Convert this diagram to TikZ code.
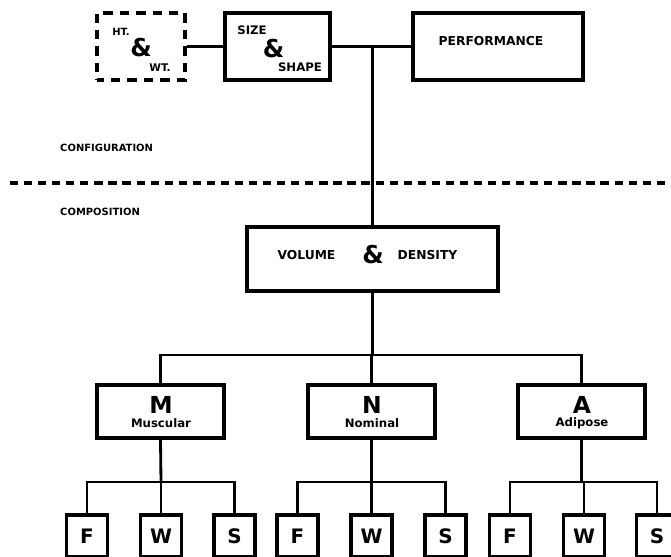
\documentclass[tikz,border=0pt]{standalone}
\usepackage{fontspec}
\setmainfont{DejaVu Sans}
\begin{document}
\begin{tikzpicture}[x=0.03cm,y=-0.03cm,
    box/.style={draw,line width=2.6pt,inner sep=0pt},
    link/.style={line width=2.4pt},
    txt/.style={inner sep=0pt,font=\bfseries\fontsize{10.5}{12}\selectfont},
    side/.style={inner sep=0pt,font=\bfseries\fontsize{8.5}{10}\selectfont},
    tiny/.style={inner sep=0pt,font=\bfseries\fontsize{10}{11}\selectfont},
    amp/.style={inner sep=0pt,font=\bfseries\fontsize{21}{22}\selectfont},
    big/.style={inner sep=0pt,font=\bfseries\fontsize{20}{22}\selectfont},
    leaf/.style={box,minimum width=1.23cm,minimum height=1.26cm,
        font=\bfseries\fontsize{17}{18}\selectfont}]

    % --- Frame ---
    \useasboundingbox (0,0) rectangle (671,556);
    \clip (0,0) rectangle (671,556);

    % --- Top row ---
    \node[box,dash pattern=on 8pt off 6pt,dash phase=2pt,minimum width=2.64cm,minimum height=2.01cm] (htwt) at (141,46.5) {};
    \node[box,minimum width=3.15cm,minimum height=2.01cm] (sizeshape) at (277.5,46.5) {};
    \node[box,minimum width=5.1cm,minimum height=2.01cm] (perf) at (498,46.5) {};

    \node[tiny,font=\bfseries\fontsize{8.5}{10}\selectfont] (htwt-ht) at (121,32) {HT.};
    \node[amp]  (htwt-amp) at (141,48) {\&};
    \node[tiny,font=\bfseries\fontsize{9}{10}\selectfont] (htwt-wt) at (160,68) {WT.};

    \node[tiny] (size-t) at (252,30) {SIZE};
    \node[amp]  (size-amp) at (273.5,49) {\&};
    \node[tiny] (shape-t) at (300,67) {SHAPE};

    \node[txt] (perf-t) at (491,41) {PERFORMANCE};

    % --- Divider and side labels ---
    \draw[line width=2.6pt,dash pattern=on 7pt off 5pt] (10,183) -- (671,183);
    \node[side,anchor=west] (config) at (60,148) {CONFIGURATION};
    \node[side,anchor=west] (compo) at (60,212) {COMPOSITION};

    % --- Volume & density ---
    \node[box,minimum width=7.53cm,minimum height=1.92cm] (vd) at (372.5,259) {};
    \node[txt] (vd-vol) at (306.5,255) {VOLUME};
    \node[amp] (vd-amp) at (373,255) {\&};
    \node[txt] (vd-den) at (427.5,255) {DENSITY};

    % --- Body types ---
    \node[box,minimum width=3.81cm,minimum height=1.59cm] (M) at (160.5,411.5) {};
    \node[box,minimum width=3.81cm,minimum height=1.59cm] (N) at (371.5,411.5) {};
    \node[box,minimum width=3.81cm,minimum height=1.59cm] (A) at (581.5,411.5) {};

    \node[big] (M-l) at (161,405) {M};
    \node[tiny] (M-n) at (161,423) {Muscular};
    \node[big] (N-l) at (372,405) {N};
    \node[tiny] (N-n) at (372,423) {Nominal};
    \node[big] (A-l) at (582,405) {A};
    \node[tiny] (A-n) at (582,423) {Adipose};

    % --- Leaves ---
    \node[leaf] (M-F) at (87,536) {F};
    \node[leaf] (M-W) at (161,536) {W};
    \node[leaf] (M-S) at (234.5,536) {S};
    \node[leaf] (N-F) at (297.5,536) {F};
    \node[leaf] (N-W) at (371.5,536) {W};
    \node[leaf] (N-S) at (445.5,536) {S};
    \node[leaf] (A-F) at (510,536) {F};
    \node[leaf] (A-W) at (584,536) {W};
    \node[leaf] (A-S) at (657,536) {S};

    % --- Connectors ---
    \coordinate (jn) at (vd.north |- perf.west);
    \coordinate (bus) at (372.5,355);
    \coordinate (M-bus) at (161,482);
    \coordinate (N-bus) at (371.5,482);
    \coordinate (A-bus) at (584,482);

    \draw[link] (htwt.east) -- (sizeshape.west);
    \draw[link] (sizeshape.east) -- (perf.west);
    \draw[link] (jn) -- (vd.north);
    \draw[link] (vd.south) -- (bus);
    \draw[link] (M.north) |- (bus) -| (A.north);
    \draw[link] (N.north) -- (N.north |- bus);

    \draw[link] (M.south) -- (M-bus);
    \draw[link] (M-F.north) |- (M-bus) -| (M-S.north);
    \draw[link] (M-W.north) -- (M-W.north |- M-bus);
    \draw[link] (N.south) -- (N-bus);
    \draw[link] (N-F.north) |- (N-bus) -| (N-S.north);
    \draw[link] (N-W.north) -- (N-W.north |- N-bus);
    \draw[link] (A.south) -- (A.south |- A-bus);
    \draw[link] (A-F.north) |- (A-bus) -| (A-S.north);
    \draw[link] (A-W.north) -- (A-bus);

\end{tikzpicture}
\end{document}
